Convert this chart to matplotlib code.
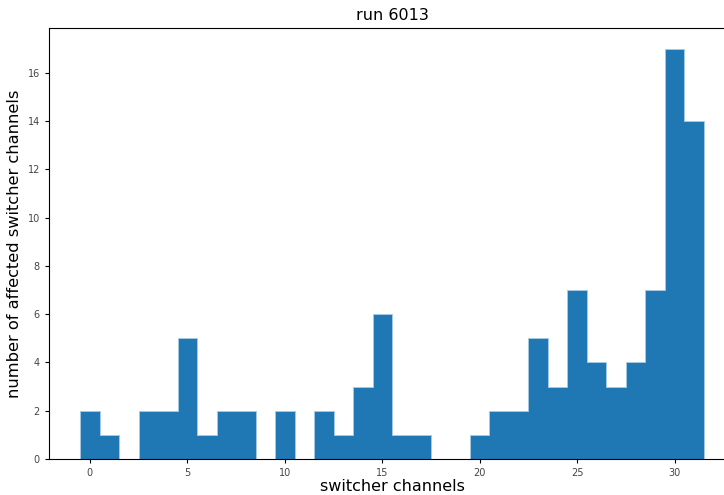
import matplotlib.pyplot as plt
import numpy as np

# affected count per switcher channel
channels = list(range(32))
counts = [2, 1, 0, 2, 2, 5, 1, 2, 2, 0, 2, 0, 2, 1, 3, 6,
          1, 1, 0, 0, 1, 2, 2, 5, 3, 7, 4, 3, 4, 7, 17, 14]

fig = plt.figure(figsize=(7.24, 4.95), dpi=100)
ax = fig.add_axes([49 / 724, 36 / 495, 686 / 724, 431 / 495])

bins = np.arange(-0.5, 32.5, 1)
ax.hist(channels, bins=bins, weights=counts, histtype='stepfilled',
        facecolor='#1f77b4', edgecolor='#a9cbe3', linewidth=0.6)

ax.set_title("run 6013", fontsize=11.5)
ax.set_xlabel("switcher channels", fontsize=11.5, labelpad=0.5)
ax.set_ylabel("number of affected switcher channels", fontsize=11.7, labelpad=4)
ax.tick_params(labelsize=7, labelcolor='#444444', length=3)

fig.savefig("out.png", dpi=100)
